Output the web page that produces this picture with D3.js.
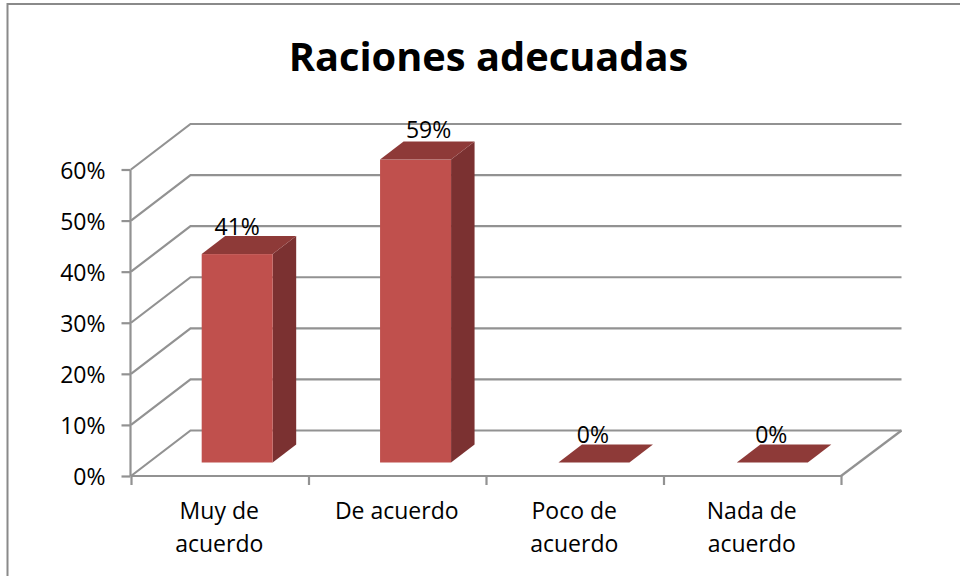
<!DOCTYPE html>
<html><head><meta charset="utf-8">
<script src="https://cdn.jsdelivr.net/npm/d3@7"></script>
<style>html,body{margin:0;background:#fff}svg{display:block}text{font-family:"Open Sans",sans-serif;fill:#000}</style>
</head><body><svg id="c" width="960" height="576"></svg>
<script>
const categories = [["Muy de","acuerdo"],["De acuerdo"],["Poco de","acuerdo"],["Nada de","acuerdo"]];
const values = [40.8,59.3,0,0];
const valueLabels = ["41%","59%","0%","0%"];
const yTicks = [0,10,20,30,40,50,60];
const title = "Raciones adecuadas";

const svg = d3.select("#c");
const grey="#929292";
svg.append("path").attr("d","M960,4H7.5V576").attr("fill","none").attr("stroke","#8a8a8a").attr("stroke-width",2);
svg.append("text").text(title).attr("x",488.5).attr("y",71).attr("text-anchor","middle")
  .attr("font-size",39.8).attr("font-weight",700);

const y=d3.scaleLinear().domain([0,60]).range([476,169.5]);
const x=d3.scaleBand().domain(d3.range(4)).range([131,841]);
const xBars=d3.scaleBand().domain(d3.range(4)).range([131,844.5]);
const depth={x:59.5,y:-45.5}, barDepth={x:23.5,y:-18}, barInset={x:17,y:-13.5};
const bw=71;
const labelNudge=[{x:0,y:1},{x:13,y:-1.5},{x:-1,y:0},{x:-1,y:0}];

// walls
const g=svg.append("g").attr("fill","none").attr("stroke",grey).attr("stroke-width",2.2);
yTicks.forEach(t=>{
  const pts=[[x.range()[0],y(t)],[x.range()[0]+depth.x,y(t)+depth.y],[x.range()[1]+depth.x+1,y(t)+depth.y]];
  g.append("path").attr("d",d3.line()(pts));
});
g.append("path").attr("d",d3.line()([[x.range()[1],y(0)],[x.range()[1]+depth.x+1,y(0)+depth.y]]));

// axes
const axL=svg.append("g").attr("transform",`translate(${x.range()[0]-0.5},0)`)
  .call(d3.axisLeft(y).tickValues(yTicks).tickSize(9).tickPadding(16).tickFormat(d=>d+"%"));
const xTickScale=d3.scaleLinear().domain([0,4]).range(x.range());
const axB=svg.append("g").attr("transform",`translate(0,${y(0)})`)
  .call(d3.axisBottom(xTickScale).tickValues(d3.range(5)).tickSize(9).tickFormat(""));
[axL,axB].forEach(a=>{a.selectAll(".domain,line").attr("stroke",grey).attr("stroke-width",2.2);});
axL.select(".domain").attr("d",`M0,${y(60)}V${y(0)}`);
axB.select(".domain").attr("d",`M${x.range()[0]},0H${x.range()[1]}`);
axL.selectAll("text").attr("font-size",23).attr("font-family","Open Sans").attr("fill","#000").attr("dy","0.37em");

// category labels
categories.forEach((lines,i)=>{
  const cx=x(i)+x.bandwidth()/2-0.5;
  lines.forEach((l,j)=>svg.append("text").text(l).attr("x",cx).attr("y",519+j*32.5)
    .attr("text-anchor","middle").attr("font-size",23));
});

// bars
const base=y(0)+barInset.y;
const h=d3.scaleLinear().domain([0,60]).range([0,y(0)-y(60)]);
values.forEach((v,i)=>{
  const x0=xBars(i)+xBars.bandwidth()/2+barInset.x-bw/2, x1=x0+bw, top=base-h(v);
  const dx=barDepth.x, dy=barDepth.y;
  const bar=svg.append("g");
  if(v>0){
    bar.append("path").attr("fill","#7b3131").attr("d",d3.line()([[x1,top],[x1+dx,top+dy],[x1+dx,base+dy],[x1,base]]));
    bar.append("rect").attr("x",x0).attr("y",top).attr("width",bw).attr("height",base-top).attr("fill","#c0504d");
  }
  bar.append("path").attr("fill","#8e3a38").attr("d",d3.line()([[x0,top],[x0+dx,top+dy],[x1+dx,top+dy],[x1,top]]));
  svg.append("text").text(valueLabels[i]).attr("x",x0+bw/2+labelNudge[i].x).attr("y",top-20+labelNudge[i].y)
    .attr("text-anchor","middle").attr("font-size",23);
});
</script></body></html>
